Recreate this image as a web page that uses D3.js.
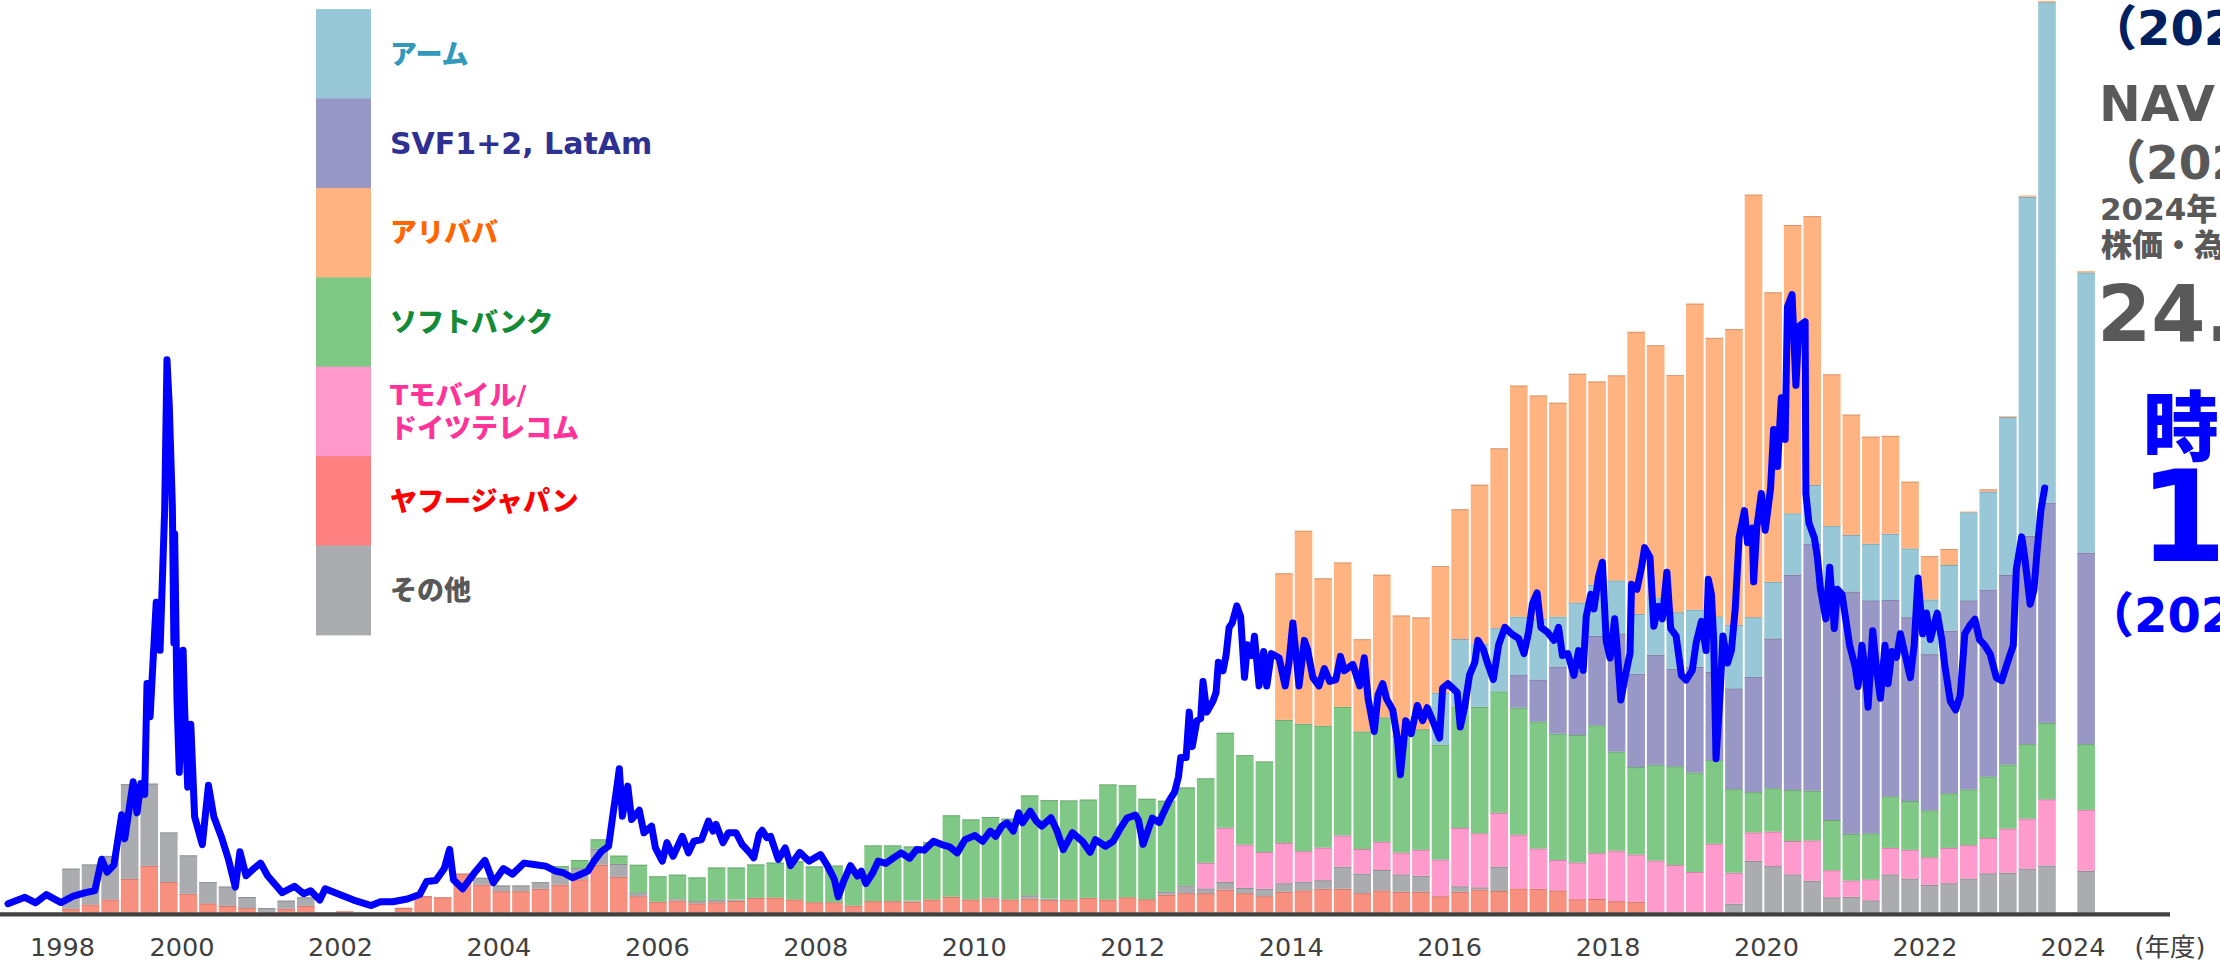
<!DOCTYPE html>
<html>
<head>
<meta charset="utf-8">
<script src="https://cdn.jsdelivr.net/npm/d3@7/dist/d3.min.js"></script>
<style>
  html, body { margin: 0; padding: 0; background: #fff; overflow: hidden; }
  svg { display: block; }
  text { font-family: "DejaVu Sans", "Noto Sans CJK JP", sans-serif; }
</style>
</head>
<body>
<script>
//set the size of the chart
var totalWidth = 2220;
var totalHeight = 962;

// quarter-end of each bar: Mar 1999 .. Jun 2024, then the latest estimate
var quarters = [];
for (var yr = 1999; yr <= 2024; yr++) {
  [3, 6, 9, 12].forEach(function (m) {
    if (yr === 2024 && m > 6) return;
    quarters.push(yr + "-" + (m < 10 ? "0" + m : m));
  });
}
quarters.push("latest");

// holdings value per quarter (trillion yen), last value = latest bar
var yahoo = [
  0.14, 0.29, 0.47, 1.22, 1.69, 1.10, 0.68, 0.33, 0.24, 0.16,
  0.02, 0.14, 0.24, 0, 0.05, 0, 0, 0.17, 0.59, 0.55,
  1.41, 1.01, 0.77, 0.77, 0.86, 1.01, 1.20, 1.73, 1.29, 0.59,
  0.39, 0.43, 0.33, 0.37, 0.42, 0.53, 0.54, 0.47, 0.37, 0.37,
  0.25, 0.41, 0.41, 0.39, 0.47, 0.57, 0.47, 0.51, 0.47, 0.50,
  0.45, 0.47, 0.53, 0.47, 0.55, 0.48, 0.64, 0.70, 0.70, 0.83,
  0.70, 0.59, 0.75, 0.80, 0.86, 0.86, 0.70, 0.80, 0.75, 0.75,
  0.59, 0.75, 0.83, 0.78, 0.87, 0.86, 0.80, 0.48, 0.49, 0.41,
  0.39, 0, 0, 0, 0, 0, 0, 0, 0, 0,
  0, 0, 0, 0, 0, 0, 0, 0, 0, 0,
  0, 0, 0
];
var others = [
  1.45, 1.45, 1.58, 3.43, 2.98, 1.80, 1.39, 0.77, 0.70, 0.40,
  0.14, 0.29, 0.31, 0, 0, 0, 0, 0, 0, 0,
  0, 0.25, 0.21, 0.21, 0.24, 0.57, 0.41, 0.58, 0.47, 0.14,
  0, 0.06, 0.08, 0.10, 0.05, 0, 0, 0, 0, 0,
  0, 0, 0, 0.05, 0, 0, 0, 0.05, 0, 0.12,
  0.05, 0, 0, 0, 0, 0, 0.12, 0.28, 0.17, 0.28,
  0.19, 0.27, 0.31, 0.30, 0.31, 0.80, 0.71, 0.74, 0.63, 0.58,
  0, 0.20, 0.08, 0.88, 0, 0, 0, 0, 0, 0,
  0, 0, 0, 0, 0, 0.32, 1.87, 1.68, 1.38, 1.15,
  0.55, 0.57, 0.44, 1.38, 1.23, 1.00, 1.06, 1.23, 1.42, 1.44,
  1.59, 1.70, 1.51
];
var tmobile = [
  0, 0, 0, 0, 0, 0, 0, 0, 0, 0,
  0, 0, 0, 0, 0, 0, 0, 0, 0, 0,
  0, 0, 0, 0, 0, 0, 0, 0, 0, 0,
  0, 0, 0, 0, 0, 0, 0, 0, 0, 0,
  0, 0, 0, 0, 0, 0, 0, 0, 0, 0,
  0, 0, 0, 0, 0, 0, 0, 0, 0.93, 1.96,
  1.57, 1.33, 1.46, 1.12, 1.18, 1.13, 0.89, 1.02, 0.79, 0.94,
  1.33, 2.11, 1.96, 1.95, 1.95, 1.46, 1.10, 1.33, 1.66, 1.83,
  1.71, 1.88, 1.72, 1.47, 2.49, 1.12, 1.03, 1.25, 1.21, 1.46,
  0.98, 0.59, 0.76, 0.96, 1.04, 1.00, 1.28, 1.21, 1.28, 1.60,
  1.81, 2.40, 2.21
];
var softbank = [
  0, 0, 0, 0, 0, 0, 0, 0, 0, 0,
  0, 0, 0, 0, 0, 0, 0, 0, 0, 0,
  0, 0, 0, 0, 0, 0.10, 0.29, 0.34, 0.30, 1.00,
  0.92, 0.88, 0.86, 1.16, 1.16, 1.21, 1.27, 1.39, 1.30, 1.33,
  1.20, 2.02, 2.02, 1.95, 2.08, 2.95, 2.90, 2.90, 2.93, 3.62,
  3.57, 3.59, 3.56, 4.17, 4.06, 3.64, 3.29, 3.55, 3.06, 3.44,
  3.24, 3.28, 4.46, 4.62, 4.42, 4.66, 4.26, 4.51, 4.24, 4.37,
  4.16, 4.40, 4.58, 4.40, 4.60, 4.60, 4.58, 4.62, 4.63, 3.59,
  3.17, 3.47, 3.58, 3.60, 3.03, 3.03, 1.46, 1.57, 1.85, 1.80,
  1.82, 1.69, 1.67, 1.87, 1.77, 1.70, 1.98, 2.02, 2.23, 2.32,
  2.70, 2.77, 2.38
];
var svf = [
  0, 0, 0, 0, 0, 0, 0, 0, 0, 0,
  0, 0, 0, 0, 0, 0, 0, 0, 0, 0,
  0, 0, 0, 0, 0, 0, 0, 0, 0, 0,
  0, 0, 0, 0, 0, 0, 0, 0, 0, 0,
  0, 0, 0, 0, 0, 0, 0, 0, 0, 0,
  0, 0, 0, 0, 0, 0, 0, 0, 0, 0,
  0, 0, 0, 0, 0, 0, 0, 0, 0, 0,
  0, 0, 0, 0, 1.18, 1.52, 2.43, 2.33, 3.24, 4.28,
  3.38, 3.99, 3.53, 3.83, 3.20, 3.65, 4.18, 5.43, 7.80, 8.96,
  8.46, 8.78, 8.44, 7.11, 6.66, 5.66, 5.89, 6.85, 6.77, 6.87,
  7.55, 7.98, 6.94
];
var arm = [
  0, 0, 0, 0, 0, 0, 0, 0, 0, 0,
  0, 0, 0, 0, 0, 0, 0, 0, 0, 0,
  0, 0, 0, 0, 0, 0, 0, 0, 0, 0,
  0, 0, 0, 0, 0, 0, 0, 0, 0, 0,
  0, 0, 0, 0, 0, 0, 0, 0, 0, 0,
  0, 0, 0, 0, 0, 0, 0, 0, 0, 0,
  0, 0, 0, 0, 0, 0, 0, 0, 0, 0,
  1.88, 2.45, 2.29, 2.29, 2.12, 2.20, 1.81, 2.47, 1.85, 1.92,
  2.17, 2.07, 2.05, 2.07, 2.01, 2.30, 2.16, 2.05, 2.22, 2.12,
  2.19, 2.05, 2.05, 2.40, 2.49, 1.98, 2.38, 3.19, 3.55, 5.72,
  12.28, 18.13, 10.15
];
var alibaba = [
  0, 0, 0, 0, 0, 0, 0, 0, 0, 0,
  0, 0, 0, 0, 0, 0, 0, 0, 0, 0,
  0, 0, 0, 0, 0, 0, 0, 0, 0, 0,
  0, 0, 0, 0, 0, 0, 0, 0, 0, 0,
  0, 0, 0, 0, 0, 0, 0, 0, 0, 0,
  0, 0, 0, 0, 0, 0, 0, 0, 0, 0,
  0, 0, 5.31, 6.99, 5.34, 5.23, 3.34, 5.17, 4.35, 4.05,
  4.59, 4.70, 5.76, 6.52, 8.37, 8.09, 7.75, 8.29, 7.37, 7.43,
  10.22, 9.14, 8.59, 11.09, 10.09, 10.72, 15.31, 10.49, 10.45, 9.74,
  5.50, 4.36, 3.88, 3.55, 2.42, 1.57, 0.58, 0.03, 0.08, 0.03,
  0.05, 0.05, 0.05
];

// market cap (trillion yen) by year
var marketCap = [
  [1998.00, 0.32], [1998.22, 0.55], [1998.36, 0.35], [1998.50, 0.65], [1998.69, 0.36],
  [1998.85, 0.59], [1999.01, 0.72], [1999.13, 0.79], [1999.22, 1.93], [1999.29, 1.46],
  [1999.38, 1.73], [1999.48, 3.54], [1999.52, 2.67], [1999.63, 4.74], [1999.68, 3.61],
  [1999.73, 4.67], [1999.78, 4.28], [1999.81, 8.30], [1999.85, 7.09], [1999.93, 11.24],
  [1999.98, 9.50], [2000.04, 14.59], [2000.07, 20.03], [2000.10, 18.35], [2000.14, 14.73],
  [2000.16, 9.77], [2000.17, 13.72], [2000.20, 7.76], [2000.23, 5.08], [2000.28, 9.50],
  [2000.30, 7.36], [2000.34, 4.54], [2000.38, 6.82], [2000.43, 3.47], [2000.53, 2.46],
  [2000.61, 4.61], [2000.68, 3.47], [2000.78, 2.73], [2000.87, 1.93], [2000.96, 0.92],
  [2001.02, 2.20], [2001.10, 1.33], [2001.20, 1.59], [2001.29, 1.79], [2001.38, 1.33],
  [2001.57, 0.72], [2001.73, 0.95], [2001.85, 0.68], [2001.94, 0.79], [2002.06, 0.45],
  [2002.13, 0.86], [2002.31, 0.66], [2002.50, 0.45], [2002.73, 0.25], [2002.85, 0.39],
  [2003.01, 0.39], [2003.20, 0.49], [2003.36, 0.65], [2003.45, 1.12], [2003.57, 1.16],
  [2003.68, 1.59], [2003.75, 2.29], [2003.80, 1.19], [2003.92, 0.86], [2004.08, 1.46],
  [2004.21, 1.89], [2004.32, 1.08], [2004.45, 1.59], [2004.57, 1.39], [2004.72, 1.79],
  [2004.87, 1.73], [2005.00, 1.68], [2005.13, 1.50], [2005.23, 1.44], [2005.35, 1.26],
  [2005.45, 1.38], [2005.55, 1.50], [2005.63, 1.86], [2005.73, 2.22], [2005.82, 2.40],
  [2005.88, 3.61], [2005.93, 4.58], [2005.96, 5.21], [2006.00, 3.49], [2006.07, 4.58],
  [2006.12, 3.37], [2006.22, 3.71], [2006.28, 2.89], [2006.38, 3.13], [2006.43, 2.34],
  [2006.52, 1.86], [2006.58, 2.53], [2006.66, 2.04], [2006.78, 2.76], [2006.86, 2.16],
  [2006.93, 2.58], [2007.03, 2.64], [2007.12, 3.31], [2007.18, 2.95], [2007.22, 3.19],
  [2007.31, 2.53], [2007.38, 2.89], [2007.48, 2.89], [2007.56, 2.46], [2007.66, 2.16],
  [2007.71, 1.98], [2007.78, 2.83], [2007.82, 2.98], [2007.88, 2.71], [2007.93, 2.76],
  [2008.03, 1.92], [2008.12, 2.34], [2008.19, 1.70], [2008.31, 2.18], [2008.43, 1.86],
  [2008.58, 2.10], [2008.66, 1.74], [2008.76, 1.20], [2008.81, 0.57], [2008.88, 1.13],
  [2008.97, 1.70], [2009.06, 1.32], [2009.11, 1.50], [2009.17, 1.05], [2009.26, 1.44],
  [2009.33, 1.86], [2009.43, 1.78], [2009.53, 1.98], [2009.63, 2.16], [2009.74, 1.96],
  [2009.83, 2.28], [2009.93, 2.26], [2010.05, 2.58], [2010.16, 2.46], [2010.26, 2.38],
  [2010.36, 2.16], [2010.46, 2.64], [2010.59, 2.79], [2010.69, 2.58], [2010.79, 2.95],
  [2010.86, 2.76], [2010.94, 3.13], [2011.01, 3.25], [2011.09, 2.95], [2011.16, 3.61],
  [2011.21, 3.25], [2011.31, 3.67], [2011.39, 3.31], [2011.46, 3.13], [2011.58, 3.43],
  [2011.66, 2.95], [2011.74, 2.28], [2011.86, 2.89], [2011.99, 2.58], [2012.09, 2.18],
  [2012.16, 2.64], [2012.29, 2.40], [2012.39, 2.58], [2012.48, 3.03], [2012.57, 3.42],
  [2012.68, 3.53], [2012.72, 3.34], [2012.78, 2.47], [2012.85, 3.03], [2012.90, 3.42],
  [2012.99, 3.26], [2013.04, 3.58], [2013.12, 4.05], [2013.19, 4.36], [2013.24, 4.91],
  [2013.27, 5.62], [2013.34, 5.62], [2013.38, 7.26], [2013.42, 6.01], [2013.48, 6.95],
  [2013.53, 7.03], [2013.56, 8.37], [2013.61, 7.26], [2013.69, 7.66], [2013.73, 7.97],
  [2013.76, 9.07], [2013.82, 8.76], [2013.86, 9.31], [2013.90, 10.33], [2013.94, 10.49],
  [2014.00, 11.11], [2014.05, 10.72], [2014.10, 8.52], [2014.14, 9.70], [2014.20, 9.31],
  [2014.23, 10.01], [2014.29, 8.21], [2014.35, 9.46], [2014.39, 8.21], [2014.45, 9.38],
  [2014.55, 9.23], [2014.63, 8.21], [2014.68, 9.07], [2014.73, 10.49], [2014.77, 9.38],
  [2014.81, 8.21], [2014.88, 9.86], [2014.92, 9.54], [2014.99, 8.52], [2015.07, 8.21],
  [2015.14, 8.84], [2015.21, 8.37], [2015.29, 8.44], [2015.35, 9.28], [2015.40, 8.76],
  [2015.51, 8.99], [2015.60, 8.21], [2015.66, 9.23], [2015.71, 7.74], [2015.79, 6.56],
  [2015.84, 7.89], [2015.90, 8.29], [2015.95, 7.74], [2016.03, 7.34], [2016.09, 6.32],
  [2016.13, 4.99], [2016.20, 6.95], [2016.27, 6.48], [2016.35, 7.50], [2016.42, 6.95],
  [2016.48, 7.42], [2016.55, 6.95], [2016.64, 6.32], [2016.68, 8.13], [2016.75, 8.29],
  [2016.81, 8.13], [2016.87, 7.97], [2016.91, 6.72], [2016.97, 7.50], [2017.03, 8.60],
  [2017.10, 9.07], [2017.14, 9.86], [2017.21, 9.54], [2017.27, 8.99], [2017.34, 8.44],
  [2017.41, 9.70], [2017.49, 10.33], [2017.58, 10.09], [2017.67, 9.93], [2017.74, 9.38],
  [2017.80, 10.17], [2017.85, 11.19], [2017.91, 11.58], [2017.96, 10.33], [2018.04, 10.17],
  [2018.13, 9.86], [2018.19, 10.33], [2018.24, 9.31], [2018.31, 9.38], [2018.39, 8.59],
  [2018.45, 9.49], [2018.51, 8.77], [2018.55, 10.73], [2018.61, 11.53], [2018.65, 11.00],
  [2018.71, 12.16], [2018.76, 12.69], [2018.81, 9.84], [2018.86, 9.22], [2018.92, 10.64],
  [2018.95, 9.66], [2019.00, 7.70], [2019.06, 8.59], [2019.12, 9.39], [2019.14, 11.89],
  [2019.21, 11.71], [2019.27, 12.51], [2019.31, 13.22], [2019.38, 12.87], [2019.43, 10.37],
  [2019.49, 11.09], [2019.54, 10.64], [2019.60, 12.33], [2019.65, 10.29], [2019.72, 10.02],
  [2019.79, 8.59], [2019.85, 8.42], [2019.93, 8.77], [2019.98, 9.75], [2020.05, 10.55],
  [2020.11, 9.49], [2020.14, 12.07], [2020.18, 11.53], [2020.21, 9.84], [2020.24, 5.57],
  [2020.29, 7.79], [2020.33, 10.02], [2020.39, 9.04], [2020.44, 9.49], [2020.49, 11.00],
  [2020.54, 13.58], [2020.61, 14.56], [2020.65, 13.40], [2020.71, 13.93], [2020.73, 11.98],
  [2020.77, 13.93], [2020.83, 15.18], [2020.88, 13.85], [2020.95, 15.36], [2020.99, 17.50],
  [2021.04, 16.16], [2021.09, 18.65], [2021.14, 17.14], [2021.17, 21.95], [2021.23, 22.39],
  [2021.28, 19.10], [2021.32, 21.24], [2021.40, 21.41], [2021.41, 15.18], [2021.45, 14.11],
  [2021.52, 13.58], [2021.56, 12.87], [2021.60, 11.71], [2021.67, 10.64], [2021.72, 12.51],
  [2021.78, 10.29], [2021.82, 11.71], [2021.88, 11.53], [2021.98, 9.68], [2022.05, 8.93],
  [2022.09, 8.19], [2022.14, 9.68], [2022.18, 8.83], [2022.22, 7.44], [2022.28, 10.21],
  [2022.33, 8.83], [2022.38, 7.76], [2022.44, 9.68], [2022.48, 8.29], [2022.53, 9.46],
  [2022.59, 9.25], [2022.64, 10.10], [2022.70, 9.36], [2022.77, 8.51], [2022.82, 9.68],
  [2022.87, 12.12], [2022.93, 10.10], [2022.98, 10.85], [2023.03, 9.89], [2023.12, 10.85],
  [2023.18, 9.89], [2023.22, 8.93], [2023.29, 7.66], [2023.36, 7.34], [2023.42, 7.87],
  [2023.48, 10.10], [2023.55, 10.42], [2023.61, 10.63], [2023.67, 9.89], [2023.74, 9.68],
  [2023.81, 9.36], [2023.89, 8.51], [2023.96, 8.40], [2024.02, 8.93], [2024.11, 9.68],
  [2024.15, 12.44], [2024.22, 13.61], [2024.26, 12.87], [2024.33, 11.17], [2024.38, 11.70],
  [2024.42, 13.08], [2024.47, 14.57], [2024.52, 15.38]
];

// x-axis labels (fiscal year)
var yearLabels = [1998, 2000, 2002, 2004, 2006, 2008, 2010, 2012, 2014, 2016, 2018, 2020, 2022, 2024];
var unitLabel = "(年度)";

// legend, top to bottom
var legendItems = [
  {name: ["アーム"], key: "arm"},
  {name: ["SVF1+2, LatAm"], key: "svf"},
  {name: ["アリババ"], key: "alibaba"},
  {name: ["ソフトバンク"], key: "softbank"},
  {name: ["Tモバイル/", "ドイツテレコム"], key: "tmobile"},
  {name: ["ヤフージャパン"], key: "yahoo"},
  {name: ["その他"], key: "others"}
];

// notes on the right edge
var noteText = ["（2024", "NAV", "（2024", "2024年", "株価・為替", "24.", "時", "1", "（2024"];

var series = {yahoo: yahoo, others: others, tmobile: tmobile, softbank: softbank, svf: svf, arm: arm, alibaba: alibaba};
var stackOrder = ["yahoo", "others", "tmobile", "softbank", "svf", "arm", "alibaba"];
var barColor = {
  arm: "#98c8d7", svf: "#9897c5", alibaba: "#ffb380", softbank: "#80c886",
  tmobile: "#ff9acc", yahoo: "#f8907f", others: "#abacaf"
};
var swatchColor = {
  arm: "#98c8d7", svf: "#9897c5", alibaba: "#ffb380", softbank: "#80c886",
  tmobile: "#ff99cc", yahoo: "#ff8080", others: "#abacaf"
};
var labelColor = {
  arm: "#3399bb", svf: "#2e3192", alibaba: "#ff6600", softbank: "#138a36",
  tmobile: "#ff3399", yahoo: "#ff0000", others: "#585858"
};
var lineColor = "#0000ff";
var axisColor = "#404040";

var svg = d3.select("body").append("svg")
    .attr("width", totalWidth)
    .attr("height", totalHeight);

// one band per quarter, an empty slot, then the latest bar
var slots = quarters.slice(0, quarters.length - 1).concat(["gap", "latest"]);
var xBand = d3.scaleBand()
    .domain(slots)
    .range([61.2, 2095.9])
    .paddingInner(0.1)
    .paddingOuter(0.05);

var y = d3.scaleLinear().domain([0, 33]).range([912.5, 1.7]);

// the market cap line has its own time axis
var xTime = d3.scaleLinear().domain([1998, 2025]).range([8, 2081.6]);

var xLabel = d3.scaleLinear()
    .domain([1998, 2000, 2022, 2024])
    .range([62.5, 182, 1925, 2073]);

var table = quarters.map(function (q, i) {
  var row = {q: q};
  stackOrder.forEach(function (k) { row[k] = series[k][i]; });
  return row;
});

var stacked = d3.stack().keys(stackOrder)(table);

var g = svg.append("g");

var layers = g.selectAll(".layer")
    .data(stacked)
    .enter()
    .append("g")
    .attr("class", "layer")
    .attr("fill", function (d) { return barColor[d.key]; });

layers.selectAll("rect")
    .data(function (d) { return d; })
    .enter()
    .append("rect")
    .attr("x", function (d) { return xBand(d.data.q); })
    .attr("width", xBand.bandwidth())
    .attr("y", function (d) { return y(d[1]); })
    .attr("height", function (d) { return Math.max(0, y(d[0]) - y(d[1])); });

// thin darker edge on top of every segment
layers.each(function (layer) {
  var edge = d3.color(barColor[layer.key]).darker(0.9);
  d3.select(this).selectAll("line")
      .data(layer.filter(function (d) { return y(d[0]) - y(d[1]) > 2; }))
      .enter()
      .append("line")
      .attr("x1", function (d) { return xBand(d.data.q); })
      .attr("x2", function (d) { return xBand(d.data.q) + xBand.bandwidth(); })
      .attr("y1", function (d) { return y(d[1]) + 0.5; })
      .attr("y2", function (d) { return y(d[1]) + 0.5; })
      .attr("stroke", edge)
      .attr("stroke-opacity", 0.6)
      .attr("stroke-width", 1);
});

// base line
svg.append("line")
    .attr("x1", 0)
    .attr("x2", 2170)
    .attr("y1", 914.3)
    .attr("y2", 914.3)
    .attr("stroke", axisColor)
    .attr("stroke-width", 4.2);

// market cap line
var line = d3.line()
    .x(function (d) { return xTime(d[0]); })
    .y(function (d) { return y(d[1]); });

svg.append("path")
    .datum(marketCap)
    .attr("d", line)
    .attr("fill", "none")
    .attr("stroke", lineColor)
    .attr("stroke-width", 7)
    .attr("stroke-linejoin", "round")
    .attr("stroke-linecap", "round");

// year labels
svg.append("g").selectAll("text")
    .data(yearLabels)
    .enter()
    .append("text")
    .attr("x", function (d) { return xLabel(d); })
    .attr("y", 956)
    .attr("text-anchor", "middle")
    .attr("font-size", 25.5)
    .attr("fill", axisColor)
    .text(function (d) { return d; });

svg.append("text")
    .attr("x", 2170)
    .attr("y", 956)
    .attr("text-anchor", "middle")
    .attr("font-size", 25.5)
    .attr("fill", axisColor)
    .text(unitLabel);

// legend
var legendTop = 9.1, boxH = 89.4;
var legend = svg.append("g");
legend.selectAll("rect")
    .data(legendItems)
    .enter()
    .append("rect")
    .attr("x", 316)
    .attr("width", 55)
    .attr("y", function (d, i) { return legendTop + i * boxH; })
    .attr("height", boxH + 0.5)
    .attr("fill", function (d) { return swatchColor[d.key]; });

legend.selectAll("text")
    .data(legendItems)
    .enter()
    .append("text")
    .attr("x", 390)
    .attr("y", function (d, i) { return legendTop + (i + 0.5) * boxH - (d.name.length - 1) * 16.5; })
    .attr("font-size", function (d) { return d.key === "svf" ? 30 : 27; })
    .attr("font-weight", 900)
    .attr("fill", function (d) { return labelColor[d.key]; })
    .each(function (d) {
      var t = d3.select(this);
      d.name.forEach(function (s, j) {
        t.append("tspan").attr("x", 390).attr("dy", j === 0 ? "0.36em" : 33).text(s);
      });
    });

// right-edge notes
var noteLayout = [
  {x: 2089, y: 45, size: 48, fill: "#002060"},
  {x: 2099, y: 121, size: 50, fill: "#595959"},
  {x: 2099, y: 179, size: 47, fill: "#595959"},
  {x: 2100, y: 220, size: 31, fill: "#595959"},
  {x: 2101, y: 256, size: 31, fill: "#595959"},
  {x: 2097, y: 341, size: 78, fill: "#595959"},
  {x: 2143, y: 455, size: 76, fill: "#0000ff"},
  {x: 2139, y: 561, size: 126, fill: "#0000ff"},
  {x: 2086, y: 632, size: 48, fill: "#0000ff"}
];
svg.append("g").selectAll("text")
    .data(noteText)
    .enter()
    .append("text")
    .attr("x", function (d, i) { return noteLayout[i].x; })
    .attr("y", function (d, i) { return noteLayout[i].y; })
    .attr("font-size", function (d, i) { return noteLayout[i].size; })
    .attr("font-weight", 900)
    .attr("fill", function (d, i) { return noteLayout[i].fill; })
    .text(function (d) { return d; });
</script>
</body>
</html>
